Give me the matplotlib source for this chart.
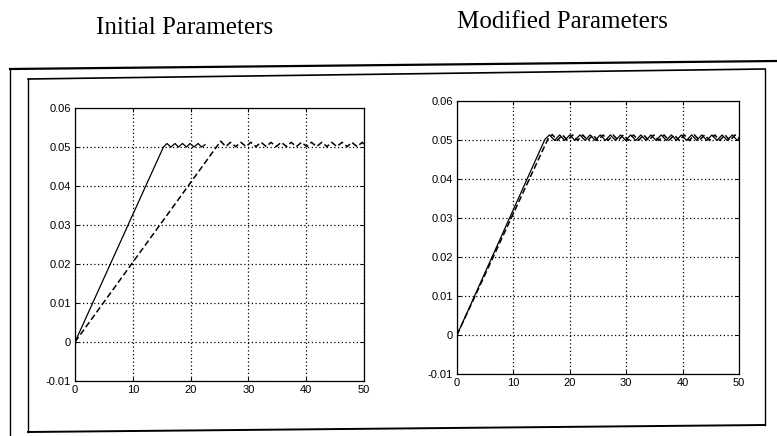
import matplotlib
matplotlib.use('Agg')
import matplotlib.pyplot as plt
from matplotlib.lines import Line2D

# ---- data ----
titles = ['Initial Parameters', 'Modified Parameters']
x_ticks = [0, 10, 20, 30, 40, 50]
y_ticks = [-0.01, 0, 0.01, 0.02, 0.03, 0.04, 0.05, 0.06]
y_tick_labels = ['-0.01', '0', '0.01', '0.02', '0.03', '0.04', '0.05', '0.06']

# initial parameters, solid curve (fast ramp, short ripple)
init_solid_x = [0, 15.3, 15.9, 16.6, 17.3, 17.9, 18.6, 19.3, 19.9, 20.6, 21.3, 21.9, 22.5]
init_solid_y = [0, 0.0500, 0.0509, 0.0500, 0.0509, 0.0500, 0.0509, 0.0500, 0.0509,
                0.0500, 0.0509, 0.0500, 0.0506]

# initial parameters, dashed curve (slow ramp, ripple to the end)
init_dash_x = [0, 25.2, 26.1, 26.9, 27.8, 28.7, 29.6, 30.4, 31.3, 32.2, 33.1, 33.9, 34.8,
               35.7, 36.6, 37.4, 38.3, 39.2, 40.1, 40.9, 41.8, 42.7, 43.6, 44.4, 45.3,
               46.2, 47.1, 47.9, 48.8, 49.7, 50.0]
init_dash_y = [0, 0.0515, 0.0501, 0.0512, 0.0501, 0.0512, 0.0501, 0.0512, 0.0501, 0.0512,
               0.0501, 0.0512, 0.0501, 0.0512, 0.0501, 0.0512, 0.0501, 0.0512, 0.0501,
               0.0512, 0.0501, 0.0512, 0.0501, 0.0512, 0.0501, 0.0512, 0.0501, 0.0512,
               0.0501, 0.0512, 0.0507]

# modified parameters, solid curve
mod_solid_x = [0, 15.6, 16.4, 17.3, 18.2, 19.1, 20.0, 20.9, 21.8, 22.7, 23.6, 24.5, 25.4,
               26.3, 27.2, 28.1, 29.0, 29.9, 30.8, 31.7, 32.6, 33.5, 34.4, 35.3, 36.2,
               37.1, 38.0, 38.9, 39.8, 40.7, 41.6, 42.5, 43.4, 44.3, 45.2, 46.1, 47.0,
               47.9, 48.8, 49.7, 50.0]
mod_solid_y = [0, 0.0502, 0.0513, 0.0499, 0.0513, 0.0499, 0.0513, 0.0499, 0.0513, 0.0499,
               0.0513, 0.0499, 0.0513, 0.0499, 0.0513, 0.0499, 0.0513, 0.0499, 0.0513,
               0.0499, 0.0513, 0.0499, 0.0513, 0.0499, 0.0513, 0.0499, 0.0513, 0.0499,
               0.0513, 0.0499, 0.0513, 0.0499, 0.0513, 0.0499, 0.0513, 0.0499, 0.0513,
               0.0499, 0.0513, 0.0499, 0.0505]

# modified parameters, dashed curve (a touch later)
mod_dash_x = [0, 16.2, 16.9, 17.8, 18.7, 19.6, 20.5, 21.4, 22.3, 23.2, 24.1, 25.0, 25.9,
              26.8, 27.7, 28.6, 29.5, 30.4, 31.3, 32.2, 33.1, 34.0, 34.9, 35.8, 36.7,
              37.6, 38.5, 39.4, 40.3, 41.2, 42.1, 43.0, 43.9, 44.8, 45.7, 46.6, 47.5,
              48.4, 49.3, 50.0]
mod_dash_y = [0, 0.0505, 0.0514, 0.0499, 0.0513, 0.0499, 0.0513, 0.0499, 0.0513, 0.0499,
              0.0513, 0.0499, 0.0513, 0.0499, 0.0513, 0.0499, 0.0513, 0.0499, 0.0513,
              0.0499, 0.0513, 0.0499, 0.0513, 0.0499, 0.0513, 0.0499, 0.0513, 0.0499,
              0.0513, 0.0499, 0.0513, 0.0499, 0.0513, 0.0499, 0.0513, 0.0499, 0.0513,
              0.0499, 0.0513, 0.0506]


def matlab_axes(fig, rect, solid, dashed):
    """Draw one MATLAB-looking panel with dotted grid."""
    ax = fig.add_axes(rect)
    ax.plot(solid[0], solid[1], color='black', lw=0.9)
    ax.plot(dashed[0], dashed[1], color='black', lw=1.1, linestyle=(0, (4, 2)))
    ax.set_xlim(0, 50)
    ax.set_ylim(-0.01, 0.06)
    ax.set_xticks(x_ticks)
    ax.set_xticklabels([str(t) for t in x_ticks])
    ax.set_yticks(y_ticks)
    ax.set_yticklabels(y_tick_labels)
    ax.grid(True, color='black', linestyle=(0, (1, 2)), lw=0.9)
    ax.tick_params(direction='in', length=3, width=0.7, top=True, right=True,
                   labelsize=8, pad=3)
    for lab in ax.get_xticklabels() + ax.get_yticklabels():
        lab.set_family('Liberation Sans')
    for s in ax.spines.values():
        s.set_linewidth(0.9)
    return ax


fig = plt.figure(figsize=(7.77, 4.36), dpi=100)
W, H = 777.0, 436.0

def px_line(x0, y0, x1, y1, lw):
    # lines of the scanned frame, given in pixel coords (y down)
    fig.add_artist(Line2D([x0 / W, x1 / W], [1 - y0 / H, 1 - y1 / H],
                          color='black', lw=lw, transform=fig.transFigure))

# outer frame (scan is slightly rotated)
px_line(10, 69, 777, 61, 1.6)
px_line(10, 69, 10, 436, 1.0)
# inner box
px_line(28, 79, 765, 69, 1.2)
px_line(28, 79, 28, 432, 1.0)
px_line(765, 69, 765, 425, 1.0)
px_line(28, 432, 765, 425, 1.4)

matlab_axes(fig, [75 / W, 1 - 381 / H, 289 / W, 273 / H],
            (init_solid_x, init_solid_y), (init_dash_x, init_dash_y))
matlab_axes(fig, [457 / W, 1 - 374 / H, 282 / W, 273 / H],
            (mod_solid_x, mod_solid_y), (mod_dash_x, mod_dash_y))

fig.text(185 / W, 1 - 28 / H, titles[0], family='Liberation Serif', fontsize=18,
         ha='center', va='center')
fig.text(562 / W, 1 - 22 / H, titles[1], family='Liberation Serif', fontsize=18,
         ha='center', va='center')

fig.savefig('out.png', dpi=100)
